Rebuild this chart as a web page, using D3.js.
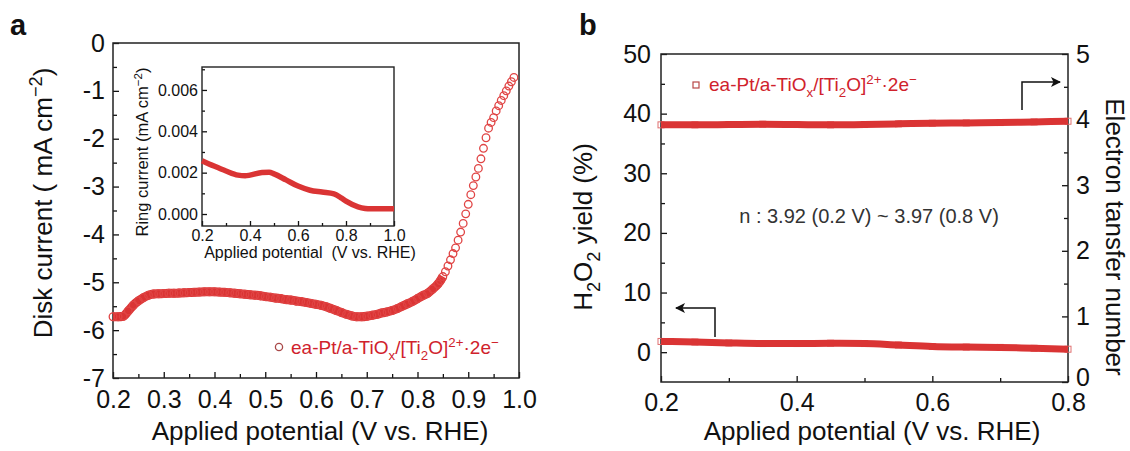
<!DOCTYPE html>
<html>
<head>
<meta charset="utf-8">
<script src="https://cdnjs.cloudflare.com/ajax/libs/d3/7.8.5/d3.min.js"></script>
<style>
body { margin: 0; background: #fff; }
svg { font-family: Arial, "Liberation Sans", Helvetica, sans-serif; }
</style>
</head>
<body>
<script>
// ---- panel a : disk current (LSV) ----
var diskV = [0.20,0.21,0.22,0.23,0.24,0.25,0.26,0.27,0.28,0.29,
             0.30,0.31,0.32,0.33,0.34,0.35,0.36,0.37,0.38,0.39,
             0.40,0.41,0.42,0.43,0.44,0.45,0.46,0.47,0.48,0.49,
             0.50,0.51,0.52,0.53,0.54,0.55,0.56,0.57,0.58,0.59,
             0.60,0.61,0.62,0.63,0.64,0.65,0.66,0.67,0.68,0.69,
             0.70,0.71,0.72,0.73,0.74,0.75,0.76,0.77,0.78,0.79,
             0.80,0.81,0.82,0.83,0.84,0.845,0.85,0.855,0.86,0.865,
             0.87,0.875,0.88,0.885,0.89,0.895,0.90,0.905,0.91,0.915,
             0.92,0.925,0.93,0.935,0.94,0.945,0.95,0.955,0.96,0.965,
             0.97,0.975,0.98,0.985,0.99];
var diskI = [-5.72,-5.72,-5.71,-5.60,-5.48,-5.39,-5.32,-5.27,-5.245,-5.24,
             -5.235,-5.23,-5.23,-5.225,-5.22,-5.215,-5.21,-5.205,-5.20,-5.20,
             -5.20,-5.205,-5.21,-5.22,-5.23,-5.24,-5.25,-5.26,-5.27,-5.28,
             -5.30,-5.31,-5.33,-5.34,-5.36,-5.37,-5.39,-5.40,-5.42,-5.44,
             -5.46,-5.48,-5.51,-5.55,-5.59,-5.63,-5.67,-5.70,-5.72,-5.72,
             -5.71,-5.69,-5.67,-5.64,-5.62,-5.59,-5.55,-5.50,-5.45,-5.40,
             -5.34,-5.28,-5.23,-5.14,-5.04,-4.97,-4.88,-4.78,-4.66,-4.53,
             -4.40,-4.28,-4.12,-3.95,-3.77,-3.57,-3.37,-3.17,-2.98,-2.80,
             -2.62,-2.42,-2.20,-1.98,-1.78,-1.66,-1.56,-1.42,-1.31,-1.20,
             -1.10,-1.00,-0.90,-0.81,-0.72];

// inset : ring current
var ringV = [0.20,0.25,0.30,0.35,0.38,0.40,0.45,0.48,0.50,0.55,0.60,0.65,0.70,0.75,0.78,0.80,0.85,0.88,0.90,0.95,1.00];
var ringI = [0.00258,0.00232,0.00208,0.00188,0.00185,0.00188,0.00201,0.00202,0.00194,0.00165,0.00135,0.00115,0.00106,0.00097,0.00078,0.00062,0.00035,0.00027,0.00025,0.00025,0.00025];

// ---- panel b ----
var bV = [0.20,0.25,0.30,0.35,0.40,0.45,0.50,0.55,0.60,0.65,0.70,0.75,0.80];
var h2o2Yield = [1.8,1.7,1.55,1.45,1.45,1.5,1.45,1.2,0.95,0.85,0.8,0.65,0.5];
var nValues = [3.92,3.92,3.925,3.93,3.925,3.92,3.925,3.935,3.945,3.95,3.955,3.965,3.975];

var xTicksA = [0.2,0.3,0.4,0.5,0.6,0.7,0.8,0.9,1.0];
var yTicksA = [0,-1,-2,-3,-4,-5,-6,-7];
var xTicksInset = [0.2,0.4,0.6,0.8,1.0];
var yTicksInset = [0,0.002,0.004,0.006];
var xTicksB = [0.2,0.4,0.6,0.8];
var yTicksBL = [0,10,20,30,40,50];
var yTicksBR = [0,1,2,3,4,5];

var legendParts = [["ea-Pt/a-TiO"],["x","sub"],["/[Ti"],["2","sub"],["O]"],["2+","sup"],["\u00b72e"],["\u2212","sup"]];

var red = "#da3434";
var width = 1130, height = 451;

var svg = d3.select("body").append("svg")
    .attr("width", width)
    .attr("height", height);
svg.append("rect").attr("width", width).attr("height", height).attr("fill", "#fff");

// text with sub / superscripts
function rich(sel, parts, size) {
  var shift = 0;
  parts.forEach(function(p) {
    var target = p[1] == "sub" ? size * 0.3 : (p[1] == "sup" ? -size * 0.38 : 0);
    var t = sel.append("tspan").text(p[0]).attr("dy", target - shift);
    if (p[1]) t.attr("font-size", size * 0.7);
    shift = target;
  });
  return sel;
}

function styleAxis(g, size) {
  g.select(".domain").remove();
  g.attr("font-family", null).attr("font-size", size);
  g.selectAll("line").attr("stroke", "#111").attr("stroke-width", 1.3);
  g.selectAll("text").attr("fill", "#111");
}

function minorVals(a, b, step) {
  var out = [];
  for (var v = a; v <= b + 1e-9; v += step) out.push(+v.toFixed(4));
  return out;
}

// ================= panel a =================
var xa = d3.scaleLinear().domain([0.2, 1.0]).range([113, 519]);
var ya = d3.scaleLinear().domain([-7, 0]).range([378, 43]);

svg.append("g").attr("transform", "translate(0,378)")
  .call(d3.axisBottom(xa).tickValues(minorVals(0.25, 0.95, 0.1)).tickSize(-4).tickFormat(""))
  .call(styleAxis, 25);
svg.append("g").attr("transform", "translate(0,378)")
  .call(d3.axisBottom(xa).tickValues(xTicksA).tickSize(-6).tickPadding(12).tickFormat(d3.format(".1f")))
  .call(styleAxis, 25);
svg.append("g").attr("transform", "translate(113,0)")
  .call(d3.axisLeft(ya).tickValues(minorVals(-6.5, -0.5, 1)).tickSize(-4).tickFormat(""))
  .call(styleAxis, 25);
svg.append("g").attr("transform", "translate(113,0)")
  .call(d3.axisLeft(ya).tickValues(yTicksA).tickSize(-6).tickPadding(8).tickFormat(function(d) { return String(d); }))
  .call(styleAxis, 25);

svg.append("rect").attr("x", 113).attr("y", 43).attr("width", 406).attr("height", 335)
  .attr("fill", "none").attr("stroke", "#222").attr("stroke-width", 1.5);

var diskData = diskV.map(function(v, i) { return {x: v, y: diskI[i]}; });
var lineA = d3.line()
  .defined(function(d) { return d.x <= 0.85; })
  .x(function(d) { return xa(d.x); })
  .y(function(d) { return ya(d.y); })
  .curve(d3.curveMonotoneX);
svg.append("path").datum(diskData).attr("d", lineA)
  .attr("fill", "none").attr("stroke", red).attr("stroke-width", 9);
svg.append("g").selectAll("circle").data(diskData).enter().append("circle")
  .attr("cx", function(d) { return xa(d.x); })
  .attr("cy", function(d) { return ya(d.y); })
  .attr("r", 3.8)
  .attr("fill", "none").attr("stroke", "#e04444").attr("stroke-width", 1.3);

// axis titles a
rich(svg.append("text").attr("x", 320).attr("y", 440).attr("text-anchor", "middle")
  .attr("font-size", 26).attr("fill", "#111"), [["Applied potential (V vs. RHE)"]], 26);
rich(svg.append("text").attr("transform", "translate(52,203) rotate(-90)").attr("text-anchor", "middle")
  .attr("font-size", 26).attr("fill", "#111"), [["Disk current ( mA cm"], ["\u22122", "sup"], [")"]], 26);

// legend a
svg.append("circle").attr("cx", 279).attr("cy", 347).attr("r", 3.6)
  .attr("fill", "none").attr("stroke", "#a84848").attr("stroke-width", 1.3);
rich(svg.append("text").attr("x", 291).attr("y", 354).attr("font-size", 19).attr("fill", "#d0222c"), legendParts, 19);

svg.append("text").attr("x", 10).attr("y", 35).attr("font-size", 29).attr("font-weight", "bold")
  .attr("fill", "#111").text("a");

// ---- inset ----
var xi = d3.scaleLinear().domain([0.2, 1.0]).range([202, 394]);
var yi = d3.scaleLinear().domain([-0.00058, 0.00711]).range([226, 67]);

svg.append("g").attr("transform", "translate(0,226)")
  .call(d3.axisBottom(xi).tickValues([0.3,0.5,0.7,0.9]).tickSize(-3).tickFormat(""))
  .call(styleAxis, 16);
svg.append("g").attr("transform", "translate(0,226)")
  .call(d3.axisBottom(xi).tickValues(xTicksInset).tickSize(-5).tickPadding(4).tickFormat(d3.format(".1f")))
  .call(styleAxis, 16);
svg.append("g").attr("transform", "translate(202,0)")
  .call(d3.axisLeft(yi).tickValues([0.001,0.003,0.005,0.007]).tickSize(-3).tickFormat(""))
  .call(styleAxis, 16);
svg.append("g").attr("transform", "translate(202,0)")
  .call(d3.axisLeft(yi).tickValues(yTicksInset).tickSize(-5).tickPadding(4).tickFormat(d3.format(".3f")))
  .call(styleAxis, 16);
svg.append("rect").attr("x", 202).attr("y", 67).attr("width", 192).attr("height", 159)
  .attr("fill", "none").attr("stroke", "#222").attr("stroke-width", 1.4);

var ringData = ringV.map(function(v, i) { return {x: v, y: ringI[i]}; });
svg.append("path").datum(ringData)
  .attr("d", d3.line().x(function(d) { return xi(d.x); }).y(function(d) { return yi(d.y); }).curve(d3.curveMonotoneX))
  .attr("fill", "none").attr("stroke", red).attr("stroke-width", 5.5);

rich(svg.append("text").attr("x", 310).attr("y", 258).attr("text-anchor", "middle")
  .attr("font-size", 16).attr("fill", "#111").attr("xml:space", "preserve"), [["Applied potential  (V vs. RHE)"]], 16);
rich(svg.append("text").attr("transform", "translate(148,152) rotate(-90)").attr("text-anchor", "middle")
  .attr("font-size", 16.5).attr("fill", "#111"), [["Ring current (mA cm"], ["\u22122", "sup"], [")"]], 16.5);

// ================= panel b =================
var xb = d3.scaleLinear().domain([0.2, 0.8]).range([661, 1068]);
var ybl = d3.scaleLinear().domain([-5, 50]).range([382, 54]);
var ybr = d3.scaleLinear().domain([0, 5]).range([382, 54]);

svg.append("g").attr("transform", "translate(0,382)")
  .call(d3.axisBottom(xb).tickValues([0.3,0.5,0.7]).tickSize(-4).tickFormat(""))
  .call(styleAxis, 25);
svg.append("g").attr("transform", "translate(0,382)")
  .call(d3.axisBottom(xb).tickValues(xTicksB).tickSize(-6).tickPadding(11).tickFormat(d3.format(".1f")))
  .call(styleAxis, 25);
svg.append("g").attr("transform", "translate(661,0)")
  .call(d3.axisLeft(ybl).tickValues([5,15,25,35,45]).tickSize(-4).tickFormat(""))
  .call(styleAxis, 25);
svg.append("g").attr("transform", "translate(661,0)")
  .call(d3.axisLeft(ybl).tickValues(yTicksBL).tickSize(-6).tickPadding(10).tickFormat(d3.format("d")))
  .call(styleAxis, 25);
svg.append("g").attr("transform", "translate(1068,0)")
  .call(d3.axisRight(ybr).tickValues([0.5,1.5,2.5,3.5,4.5]).tickSize(-4).tickFormat(""))
  .call(styleAxis, 25);
var rAxis = svg.append("g").attr("transform", "translate(1068,0)")
  .call(d3.axisRight(ybr).tickValues(yTicksBR).tickSize(-6).tickPadding(8).tickFormat(d3.format("d")))
  .call(styleAxis, 25);
// the bottom "0" sits a little higher so it clears the 0.8 label
rAxis.selectAll(".tick text").filter(function(d) { return d === 0; }).attr("dy", "0.15em");

svg.append("rect").attr("x", 661).attr("y", 54).attr("width", 407).attr("height", 328)
  .attr("fill", "none").attr("stroke", "#222").attr("stroke-width", 1.5);

var yieldData = bV.map(function(v, i) { return {x: v, y: h2o2Yield[i]}; });
var nData = bV.map(function(v, i) { return {x: v, y: nValues[i]}; });

[[yieldData, ybl], [nData, ybr]].forEach(function(s) {
  var yy = s[1];
  svg.append("g").selectAll("rect").data(s[0]).enter().append("rect")
    .attr("x", function(d) { return xb(d.x) - 3; })
    .attr("y", function(d) { return yy(d.y) - 3; })
    .attr("width", 6).attr("height", 6)
    .attr("fill", "none").attr("stroke", "#e07070").attr("stroke-width", 1);
  svg.append("path").datum(s[0])
    .attr("d", d3.line().x(function(d) { return xb(d.x); }).y(function(d) { return yy(d.y); }).curve(d3.curveMonotoneX))
    .attr("fill", "none").attr("stroke", red).attr("stroke-width", 7);
});

// arrows
svg.append("defs").append("marker").attr("id", "ah")
  .attr("viewBox", "0 0 10 10").attr("refX", 9).attr("refY", 5)
  .attr("markerWidth", 12).attr("markerHeight", 10).attr("markerUnits", "userSpaceOnUse")
  .attr("orient", "auto")
  .append("path").attr("d", "M0,0 L10,5 L0,10 L2.5,5 Z").attr("fill", "#111");
svg.append("path").attr("d", "M1022,110 L1022,82 L1060,82")
  .attr("fill", "none").attr("stroke", "#111").attr("stroke-width", 1.5).attr("marker-end", "url(#ah)");
svg.append("path").attr("d", "M715,337 L715,308 L676,308")
  .attr("fill", "none").attr("stroke", "#111").attr("stroke-width", 1.5).attr("marker-end", "url(#ah)");

// annotation
svg.append("text").attr("x", 869).attr("y", 223).attr("text-anchor", "middle")
  .attr("font-size", 20).attr("fill", "#333").text("n : 3.92 (0.2 V) ~ 3.97 (0.8 V)");

// legend b
svg.append("rect").attr("x", 693).attr("y", 82).attr("width", 6).attr("height", 6)
  .attr("fill", "none").attr("stroke", "#b84848").attr("stroke-width", 1.2);
rich(svg.append("text").attr("x", 709).attr("y", 91).attr("font-size", 19).attr("fill", "#d0222c"), legendParts, 19);

// axis titles b
rich(svg.append("text").attr("x", 872).attr("y", 440).attr("text-anchor", "middle")
  .attr("font-size", 26).attr("fill", "#111"), [["Applied potential (V vs. RHE)"]], 26);
rich(svg.append("text").attr("transform", "translate(592,227) rotate(-90)").attr("text-anchor", "middle")
  .attr("font-size", 26).attr("fill", "#111"), [["H"], ["2", "sub"], ["O"], ["2", "sub"], [" yield (%)"]], 26);
rich(svg.append("text").attr("transform", "translate(1106,237) rotate(90)").attr("text-anchor", "middle")
  .attr("font-size", 26).attr("fill", "#111"), [["Electron tansfer number"]], 26);

svg.append("text").attr("x", 579).attr("y", 35).attr("font-size", 29).attr("font-weight", "bold")
  .attr("fill", "#111").text("b");
</script>
</body>
</html>
